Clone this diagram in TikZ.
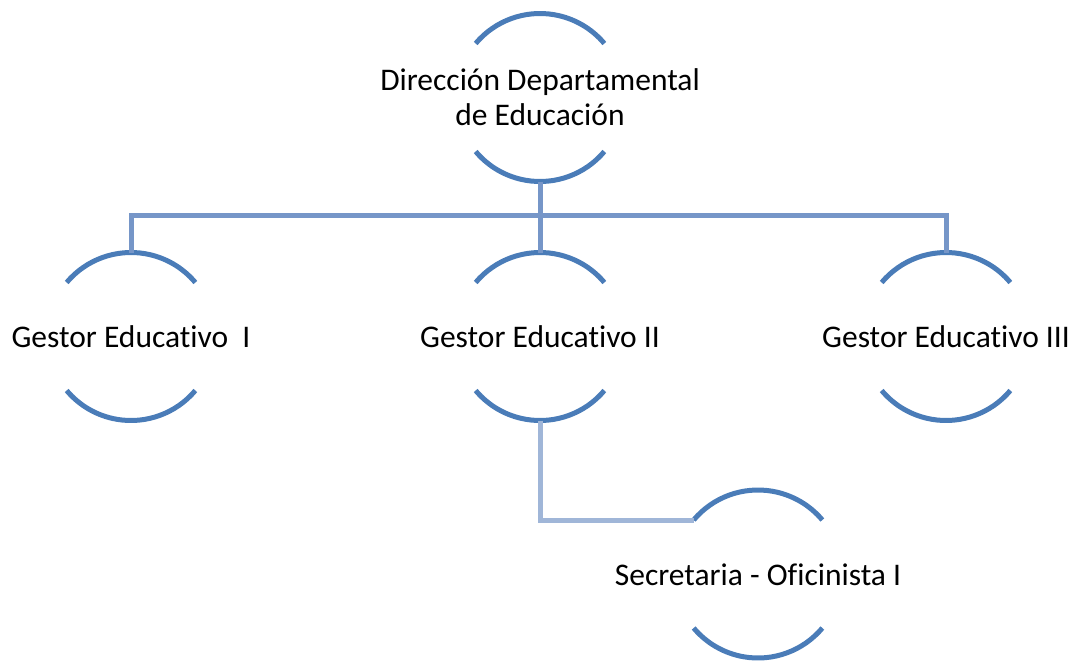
\documentclass[tikz,border=0pt]{standalone}
\usepackage{fontspec}
\setmainfont{Carlito}[Ligatures=NoCommon]
\usetikzlibrary{calc}
\definecolor{arcblue}{RGB}{74,124,184}
\definecolor{linkblue}{RGB}{118,150,200}
\definecolor{linklight}{RGB}{160,182,216}
\begin{document}
\begin{tikzpicture}[x=1pt,y=-1pt,
  arcline/.style={draw=arcblue, line width=5pt},
  linkline/.style={draw=linkblue, line width=5pt},
  linklightline/.style={draw=linklight, line width=5pt},
  lbl/.style={font=\fontsize{31.5}{35}\selectfont, inner sep=0pt, text=black, align=center},
  ring/.pic={
    \draw[arcline] (220:84) arc[start angle=220,end angle=320,radius=84];
    \draw[arcline] (40:84) arc[start angle=40,end angle=140,radius=84];
  }]
\useasboundingbox (0,0) rectangle (1075,661);
% circle centres
\coordinate (ctop) at (540,97.5);
\coordinate (cg1) at (131,336.5);
\coordinate (cg2) at (540,336.5);
\coordinate (cg3) at (946,336.5);
\coordinate (csec) at (758,574);
% rings
\pic at (ctop) {ring};
\pic at (cg1) {ring};
\pic at (cg2) {ring};
\pic at (cg3) {ring};
\pic at (csec) {ring};
% connector anchors
\coordinate (topB) at ($(ctop)+(0,84)$);
\coordinate (g1T) at ($(cg1)+(0,-84)$);
\coordinate (g2T) at ($(cg2)+(0,-84)$);
\coordinate (g3T) at ($(cg3)+(0,-84)$);
\coordinate (g2B) at ($(cg2)+(0,84)$);
\coordinate (secL) at ($(csec)+(220:84)$);
\coordinate (bus) at (540,215);
% connectors
\draw[linkline] (topB) -- (bus);
\draw[linkline] (bus) -| (g1T);
\draw[linkline] (bus) -| (g3T);
\draw[linkline] (bus) -- (g2T);
\draw[linklightline] (g2B) |- (secL);
% labels
\node[lbl] (ntop) at (ctop) {Dirección Departamental\\de Educación};
\node[lbl, anchor=base] (ng1) at (131,347) {Gestor Educativo\ \ I};
\node[lbl, anchor=base] (ng2) at (540,347) {Gestor Educativo II};
\node[lbl, anchor=base] (ng3) at (946,347) {Gestor Educativo III};
\node[lbl, anchor=base] (nsec) at (758,585) {Secretaria - Oficinista I};
\end{tikzpicture}
\end{document}
